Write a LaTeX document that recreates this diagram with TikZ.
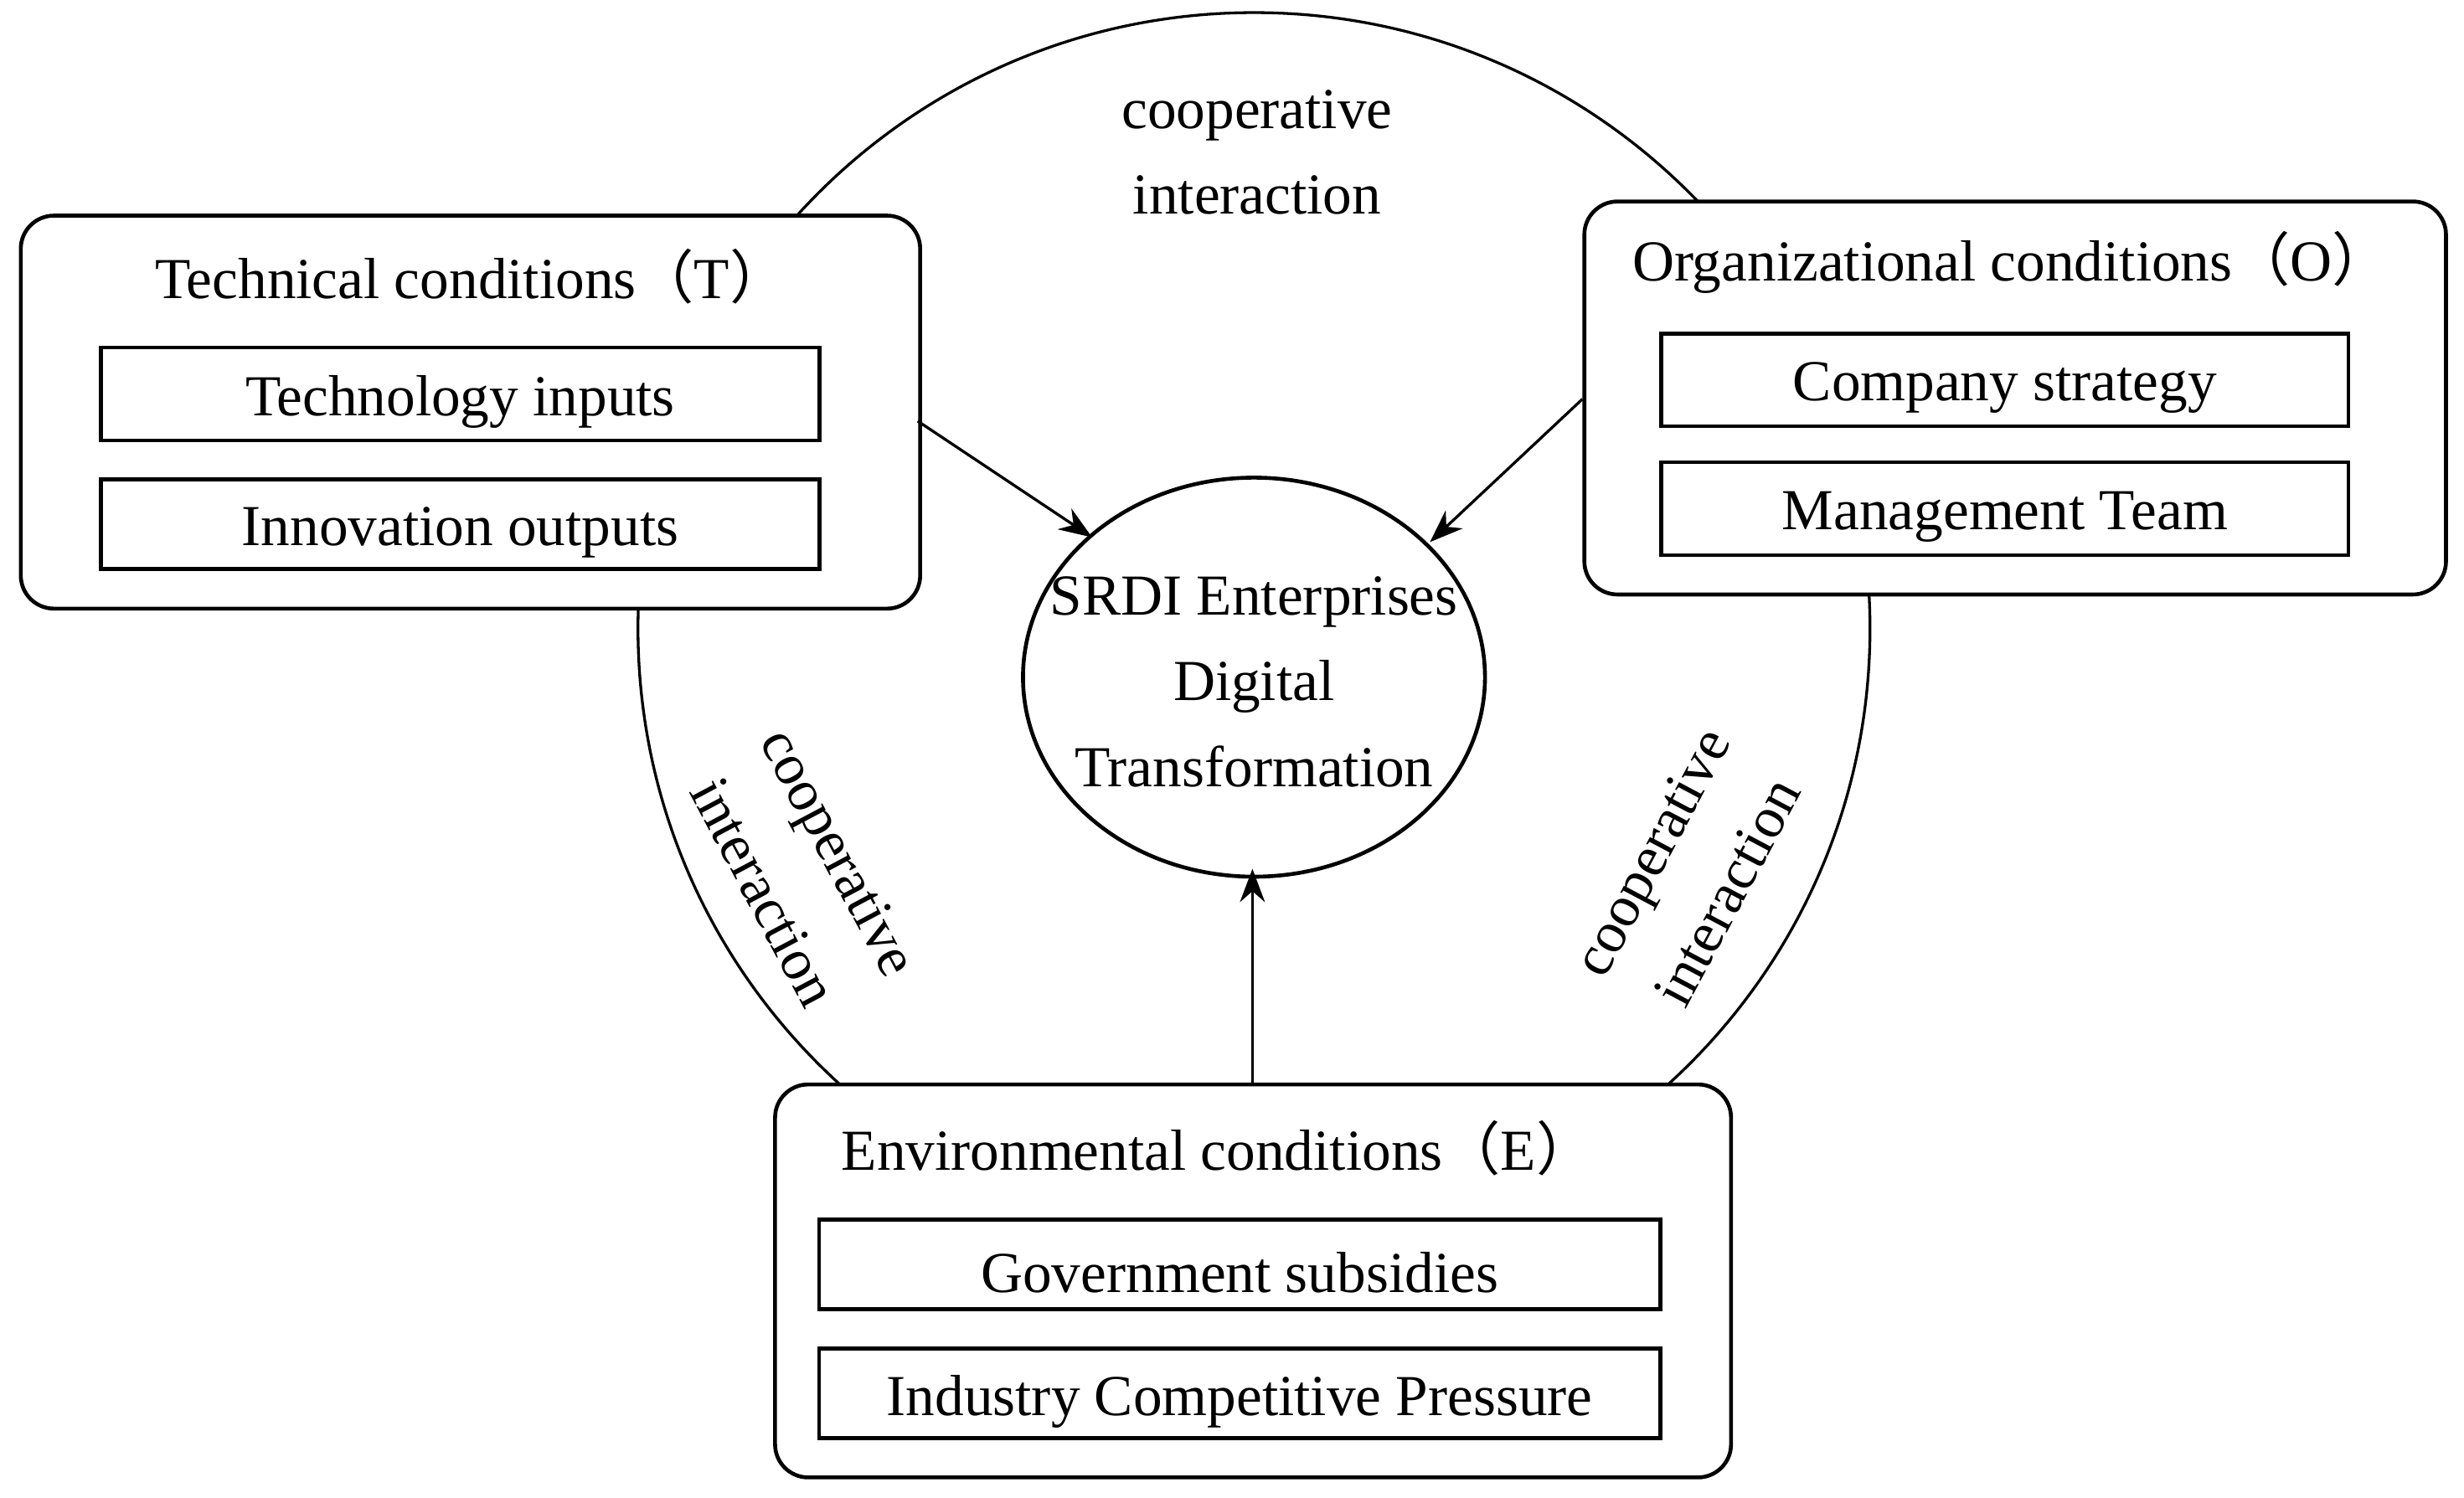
\documentclass[tikz,border=0pt]{standalone}
\usepackage{fontspec}
\setmainfont{Liberation Serif}
\newfontfamily\cjk{Noto Sans CJK SC}
\usetikzlibrary{arrows.meta}
\begin{document}
\begin{tikzpicture}[x=0.01cm,y=-0.01cm,
  outer/.style={draw,rounded corners=6pt,fill=white,line width=0.7pt,inner sep=0pt},
  inner/.style={draw,line width=0.7pt,inner sep=0pt},
  txt/.style={font=\fontsize{10.5}{12.5}\selectfont},
  arr/.style={-{Stealth[length=6pt,width=4.5pt]},line width=0.5pt}]
\useasboundingbox (0,0) rectangle (1568,953);
\draw[line width=0.5pt] (798,400) circle [radius=392];
\node[outer,minimum width=5.72cm,minimum height=2.5cm,anchor=north west] (T) at (12,136) {};
\node[outer,minimum width=5.48cm,minimum height=2.5cm,anchor=north west] (O) at (1007,127) {};
\node[outer,minimum width=6.08cm,minimum height=2.5cm,anchor=north west] (E) at (492,689) {};
\node[txt] (Tt) at (300,176) {Technical conditions{\cjk（}T{\cjk）}};
\node[txt] (Ot) at (1280,167) {Organizational conditions{\cjk（}O{\cjk）}};
\node[txt] (Et) at (775,731) {Environmental conditions{\cjk（}E{\cjk）}};
\node[inner,minimum width=4.57cm,minimum height=0.59cm,anchor=north west] (T1) at (63,220) {};
\node[txt] at ([yshift=-1.5pt]T1) {Technology inputs};
\node[inner,minimum width=4.57cm,minimum height=0.57cm,anchor=north west] (T2) at (63,304) {};
\node[txt] at ([yshift=-1.5pt]T2) {Innovation outputs};
\node[inner,minimum width=4.37cm,minimum height=0.59cm,anchor=north west] (O1) at (1056,211) {};
\node[txt] at ([yshift=-1.5pt]O1) {Company strategy};
\node[inner,minimum width=4.37cm,minimum height=0.59cm,anchor=north west] (O2) at (1056,293) {};
\node[txt] at ([yshift=-1.5pt]O2) {Management Team};
\node[inner,minimum width=5.35cm,minimum height=0.57cm,anchor=north west] (E1) at (520,775) {};
\node[txt] at ([yshift=-1.5pt]E1) {Government subsidies};
\node[inner,minimum width=5.35cm,minimum height=0.57cm,anchor=north west] (E2) at (520,857) {};
\node[txt] at ([yshift=-1.5pt]E2) {Industry Competitive Pressure};
\draw[line width=0.7pt] (798,431) ellipse [x radius=147, y radius=127];
\node[txt,align=center] (C) at (798,434) {SRDI Enterprises\\[3pt]Digital\\[3pt]Transformation};
\coordinate (a1) at (584,268); \coordinate (a2) at (695,342);
\coordinate (b1) at (1007,254); \coordinate (b2) at (910,345);
\coordinate (c1) at (797,689); \coordinate (c2) at (797,553);
\draw[arr] (a1) -- (a2);
\draw[arr] (b1) -- (b2);
\draw[arr] (c1) -- (c2);
\node[txt,align=center] (L1) at (800,97) {cooperative\\[3pt]interaction};
\node[txt,align=center,rotate=-62] (L2) at (510,555) {cooperative\\[3pt]interaction};
\node[txt,align=center,rotate=62] (L3) at (1075,555) {cooperative\\[3pt]interaction};
\end{tikzpicture}
\end{document}
